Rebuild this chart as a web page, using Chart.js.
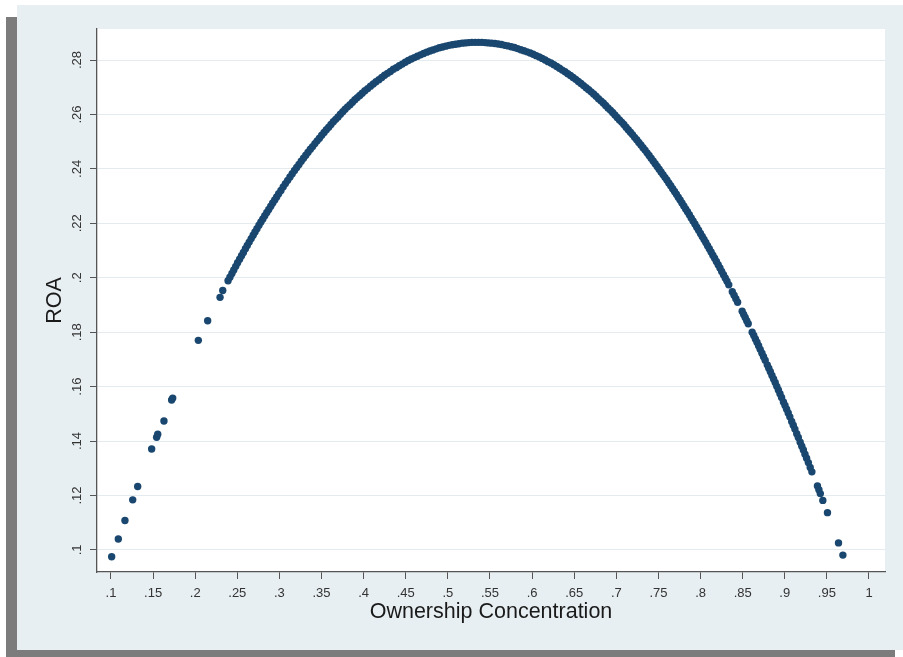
<!DOCTYPE html>
<html>
<head>
<meta charset="utf-8">
<script src="https://cdn.jsdelivr.net/npm/chart.js@4/dist/chart.umd.min.js"></script>
<style>
html,body{margin:0;padding:0;background:#ffffff;overflow:hidden}
#wrap{position:relative;width:903px;height:657px}
</style>
</head>
<body>
<div id="wrap"><canvas id="c" width="903" height="657"></canvas></div>
<script>
// ---- data ----
const ownership = [
  .1008,.1087,.1166,.1258,.1317,.1483,.1542,.1555,.1629,.1720,.1733,.2037,.2148,.2295,.2327,
  .2390,.2412,.2436,.2458,.2481,.2503,.2527,.2550,.2572,.2596,.2618,.2641,.2665,.2688,.2710,.2733,.2757,.2780,.2803,.2826,.2850,.2873,.2897,.2920,.2944,.2967,.2991,
  .3018,.3045,.3071,.3098,.3125,.3152,.3179,.3205,.3232,.3259,.3286,.3313,.3340,.3367,.3394,.3421,.3448,.3475,.3502,.3530,.3557,.3585,.3612,.3640,.3668,.3696,.3724,.3752,.3780,.3809,.3838,.3867,.3896,.3925,.3954,.3983,
  .4015,.4048,.4081,.4114,.4147,.4181,.4215,.4249,.4283,.4318,.4353,.4388,.4423,.4458,.4494,.4530,.4566,.4602,.4638,.4675,.4712,.4749,.4786,.4823,.4861,.4899,.4937,.4975,
  .5013,.5052,.5091,.5130,.5169,.5208,.5247,.5286,.5325,.5364,.5403,.5442,.5481,.5520,.5559,.5598,.5637,.5676,.5714,.5752,.5790,.5828,.5866,.5903,.5940,.5977,
  .6013,.6049,.6085,.6120,.6155,.6190,.6224,.6258,.6292,.6325,.6358,.6391,.6423,.6455,.6487,.6518,.6549,.6580,.6611,.6641,.6671,.6701,.6730,.6759,.6788,.6817,.6845,.6873,.6901,.6929,.6956,.6983,
  .7010,.7037,.7063,.7089,.7115,.7141,.7167,.7192,.7217,.7242,.7267,.7292,.7317,.7341,.7365,.7389,.7413,.7437,.7461,.7485,.7508,.7531,.7554,.7577,.7600,.7623,.7646,.7669,.7691,.7713,.7735,.7757,.7779,.7801,.7823,.7845,.7867,.7889,.7911,.7933,.7955,.7977,.7999,
  .8020,.8041,.8062,.8083,.8104,.8125,.8146,.8167,.8188,.8209,.8230,.8251,.8272,.8293,.8314,.8335,.8377,.8398,.8419,.8440,
  .8494,.8512,.8530,.8548,.8566,
  .8613,.8632,.8651,.8670,.8689,.8708,.8729,.8748,.8767,.8792,.8810,.8829,.8848,.8867,.8886,.8905,.8924,.8943,.8962,.8984,.9003,.9022,.9041,.9060,.9082,.9101,.9120,.9142,.9161,.9183,.9202,.9221,.9240,.9259,.9280,.9302,.9322,
  .9388,.9405,.9422,.9452,.9507,.9638,.9690
];
const roa = [
  .0975,.1040,.1108,.1184,.1233,.1371,.1414,.1425,.1474,.1551,.1558,.1770,.1842,.1928,.1953,
  .1989,.2002,.2016,.2029,.2042,.2055,.2068,.2081,.2093,.2107,.2119,.2131,.2144,.2156,.2168,.2180,.2193,.2205,.2216,.2228,.2240,.2251,.2263,.2275,.2286,.2297,.2309,
  .2321,.2334,.2346,.2358,.2370,.2382,.2394,.2405,.2416,.2428,.2439,.2450,.2461,.2472,.2482,.2493,.2503,.2513,.2524,.2534,.2544,.2553,.2563,.2573,.2582,.2591,.2601,.2610,.2619,.2628,.2636,.2645,.2654,.2662,.2670,.2678,
  .2687,.2695,.2704,.2712,.2720,.2728,.2736,.2744,.2751,.2758,.2766,.2772,.2779,.2785,.2792,.2798,.2804,.2809,.2814,.2819,.2824,.2829,.2833,.2837,.2841,.2845,.2848,.2851,
  .2854,.2856,.2858,.2860,.2862,.2863,.2864,.2865,.2865,.2865,.2865,.2864,.2863,.2862,.2861,.2859,.2857,.2854,.2852,.2849,.2846,.2842,.2838,.2834,.2830,.2826,
  .2821,.2816,.2811,.2806,.2800,.2794,.2789,.2783,.2776,.2770,.2763,.2757,.2750,.2743,.2736,.2729,.2721,.2714,.2706,.2698,.2691,.2683,.2675,.2667,.2658,.2650,.2642,.2633,.2624,.2616,.2607,.2598,
  .2589,.2580,.2572,.2563,.2553,.2544,.2535,.2526,.2516,.2507,.2497,.2488,.2478,.2469,.2459,.2449,.2439,.2429,.2419,.2409,.2399,.2389,.2379,.2369,.2359,.2348,.2338,.2327,.2317,.2307,.2296,.2286,.2275,.2264,.2253,.2243,.2232,.2220,.2209,.2198,.2186,.2175,.2163,
  .2152,.2141,.2130,.2118,.2107,.2095,.2083,.2072,.2060,.2048,.2036,.2023,.2011,.1999,.1987,.1974,.1949,.1936,.1923,.1910,
  .1877,.1865,.1854,.1842,.1831,
  .1800,.1788,.1775,.1763,.1750,.1737,.1723,.1710,.1697,.1680,.1668,.1655,.1641,.1628,.1615,.1601,.1588,.1574,.1560,.1544,.1531,.1517,.1503,.1489,.1472,.1458,.1444,.1427,.1413,.1396,.1381,.1367,.1352,.1337,.1321,.1303,.1287,
  .1235,.1221,.1207,.1182,.1137,.1026,.0981
];
const xTickValues = [.1,.15,.2,.25,.3,.35,.4,.45,.5,.55,.6,.65,.7,.75,.8,.85,.9,.95,1];
const yTickValues = [.1,.12,.14,.16,.18,.2,.22,.24,.26,.28];
const xTitle = 'Ownership Concentration';
const yTitle = 'ROA';

// ---- helpers ----
const fmt = v => {
  const r = Math.round(v * 1000) / 1000;
  return String(r).replace(/^0\./, '.');
};
const FONT = "'Liberation Sans', Arial, sans-serif";
const AXIS = '#555555';

const backdrop = {
  id: 'backdrop',
  beforeDraw(chart) {
    const ctx = chart.ctx;
    const W = chart.width, H = chart.height;
    ctx.save();
    ctx.fillStyle = '#ffffff';
    ctx.fillRect(0, 0, W, H);
    // shadow strips
    ctx.fillStyle = '#7c7c7c';
    ctx.fillRect(6, 17, 11, H - 17);
    ctx.fillRect(6, 650, 889, H - 650);
    // graph region
    ctx.fillStyle = '#e8eff2';
    ctx.fillRect(17, 5, W - 17, 645);
    // plot region
    const a = chart.chartArea;
    ctx.fillStyle = '#ffffff';
    ctx.fillRect(a.left, a.top, a.right - a.left, a.bottom - a.top);
    ctx.restore();
  }
};

const points = ownership.map((x, i) => ({x: x, y: roa[i]}));

new Chart(document.getElementById('c'), {
  type: 'scatter',
  data: {
    datasets: [{
      data: points,
      pointRadius: 3.7,
      pointBorderWidth: 0,
      pointBackgroundColor: '#1a476f',
      pointBorderColor: '#1a476f'
    }]
  },
  options: {
    responsive: false,
    animation: false,
    events: [],
    layout: {padding: {left: 0, top: 29, right: 18, bottom: 0}},
    plugins: {legend: {display: false}, tooltip: {enabled: false}},
    scales: {
      x: {
        type: 'linear',
        position: 'bottom',
        min: 0.0834,
        max: 1.019,
        afterBuildTicks: s => { s.ticks = xTickValues.map(v => ({value: v})); },
        afterFit: s => { s.height = 85; },
        ticks: {
          callback: fmt,
          autoSkip: false,
          maxRotation: 0,
          minRotation: 0,
          padding: 7,
          color: '#333333',
          font: {family: FONT, size: 13}
        },
        grid: {drawOnChartArea: false, color: AXIS, tickColor: AXIS, tickLength: 7, tickWidth: 1},
        border: {display: true, color: AXIS, width: 1.3},
        title: {
          display: true,
          text: xTitle,
          color: '#1a1a1a',
          font: {family: FONT, size: 21.5},
          padding: {top: 0, bottom: 32}
        }
      },
      y: {
        type: 'linear',
        position: 'left',
        min: 0.0919,
        max: 0.2914,
        afterBuildTicks: s => { s.ticks = yTickValues.map(v => ({value: v})); },
        afterFit: s => { s.width = 97; },
        ticks: {
          callback: fmt,
          autoSkip: false,
          minRotation: 90,
          maxRotation: 90,
          crossAlign: 'center',
          padding: 4,
          color: '#333333',
          font: {family: FONT, size: 13}
        },
        grid: {color: '#e3ebee', lineWidth: 1, tickColor: AXIS, tickLength: 7, tickWidth: 1},
        border: {display: true, color: AXIS, width: 1.3},
        title: {
          display: true,
          text: yTitle,
          color: '#1a1a1a',
          font: {family: FONT, size: 21.5},
          padding: {top: 42, bottom: 0}
        }
      }
    }
  },
  plugins: [backdrop]
});
</script>
</body>
</html>
